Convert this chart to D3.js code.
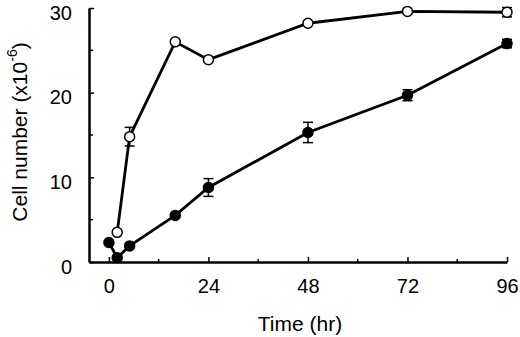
<!DOCTYPE html>
<html>
<head>
<meta charset="utf-8">
<script src="https://cdn.jsdelivr.net/npm/d3@7"></script>
<style>
  body { margin: 0; background: #fff; }
  text { font-family: "Liberation Sans", Arial, sans-serif; fill: #000; }
</style>
</head>
<body>
<div id="chart"></div>
<script>
// Time points (hr)
const openTime = [2, 5, 16, 24, 48, 72, 96];
const openCells = [3.5, 14.8, 26.0, 23.9, 28.2, 29.6, 29.5];
const openErr = [0, 1.1, 0, 0, 0, 0, 0.55];

const filledTime = [0, 2, 5, 16, 24, 48, 72, 96];
const filledCells = [2.3, 0.5, 1.9, 5.5, 8.8, 15.3, 19.7, 25.8];
const filledErr = [0, 0, 0, 0, 1.05, 1.2, 0.65, 0.5];

const xTicks = [0, 24, 48, 72, 96];
const xMinorTicks = [12, 36, 60, 84];
const yTicks = [0, 10, 20, 30];
const yMinorTicks = [5, 15, 25];

const width = 520, height = 337;
const x0 = 89, x1 = 507, yTop = 8, yBottom = 262;

const svg = d3.select("#chart").append("svg")
    .attr("width", width)
    .attr("height", height);

const xScale = d3.scaleLinear().domain([-4.8, 96]).range([x0, x1]);
const yScale = d3.scaleLinear().domain([0, 30]).range([yBottom, yTop]);

// axes, ticks point inward
const xAxis = svg.append("g")
    .attr("transform", `translate(0,${yBottom})`)
    .call(d3.axisBottom(xScale).tickValues(xTicks).tickSizeInner(-5).tickSizeOuter(0).tickPadding(14));
xAxis.append("g").selectAll("line").data(xMinorTicks).enter().append("line")
    .attr("x1", d => xScale(d)).attr("x2", d => xScale(d))
    .attr("y1", 0).attr("y2", -3)
    .attr("stroke", "#000").attr("stroke-width", 1.5);

const yAxis = svg.append("g")
    .attr("transform", `translate(${x0},0)`)
    .call(d3.axisLeft(yScale).tickValues(yTicks).tickSizeInner(-5).tickSizeOuter(0).tickPadding(17));
yAxis.append("g").selectAll("line").data(yMinorTicks).enter().append("line")
    .attr("y1", d => yScale(d)).attr("y2", d => yScale(d))
    .attr("x1", 0).attr("x2", 4)
    .attr("stroke", "#000").attr("stroke-width", 1.5);

svg.selectAll(".domain").attr("stroke-width", 2.5).attr("stroke", "#000");
svg.selectAll(".tick line").attr("stroke-width", 1.5).attr("stroke", "#000");
svg.selectAll(".tick text").attr("font-size", 20).attr("font-family", "Liberation Sans, Arial, sans-serif");
xAxis.selectAll(".tick text").attr("dy", "0.85em");
yAxis.selectAll(".tick text").attr("dy", "0.55em");

// axis titles
svg.append("text")
    .attr("x", 300).attr("y", 331)
    .attr("text-anchor", "middle")
    .attr("font-size", 21)
    .text("Time (hr)");

const yl = svg.append("text")
    .attr("transform", "translate(27,132) rotate(-90)")
    .attr("text-anchor", "middle")
    .attr("font-size", 21);
yl.append("tspan").text("Cell number (x10");
yl.append("tspan").attr("font-size", 14).attr("dy", -10).text("-6");
yl.append("tspan").attr("dy", 10).text(")");

function drawSeries(times, vals, errs, fill) {
    const pts = times.map((t, i) => ({ t: t, v: vals[i], e: errs[i] }));
    const line = d3.line().x(d => xScale(d.t)).y(d => yScale(d.v));
    svg.append("path").datum(pts)
        .attr("d", line)
        .attr("fill", "none")
        .attr("stroke", "#000")
        .attr("stroke-width", 2.8);

    const eb = svg.append("g").selectAll("g").data(pts.filter(d => d.e > 0)).enter().append("g");
    eb.append("line")
        .attr("x1", d => xScale(d.t)).attr("x2", d => xScale(d.t))
        .attr("y1", d => yScale(d.v - d.e)).attr("y2", d => yScale(d.v + d.e))
        .attr("stroke", "#000").attr("stroke-width", 1.5);
    [-1, 1].forEach(s => {
        eb.append("line")
            .attr("x1", d => xScale(d.t) - 5).attr("x2", d => xScale(d.t) + 5)
            .attr("y1", d => yScale(d.v + s * d.e)).attr("y2", d => yScale(d.v + s * d.e))
            .attr("stroke", "#000").attr("stroke-width", 1.5);
    });

    svg.append("g").selectAll("circle").data(pts).enter().append("circle")
        .attr("cx", d => xScale(d.t))
        .attr("cy", d => yScale(d.v))
        .attr("r", 5)
        .attr("fill", fill)
        .attr("stroke", "#000")
        .attr("stroke-width", 1.5);
}

drawSeries(openTime, openCells, openErr, "#fff");
drawSeries(filledTime, filledCells, filledErr, "#000");
</script>
</body>
</html>
